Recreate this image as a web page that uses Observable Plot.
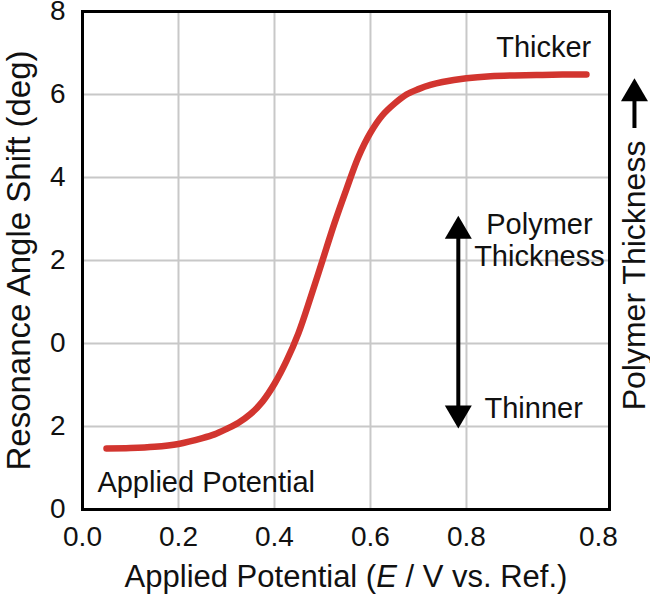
<!DOCTYPE html>
<html>
<head>
<meta charset="utf-8">
<script src="https://cdn.jsdelivr.net/npm/d3@7"></script>
<script src="https://cdn.jsdelivr.net/npm/@observablehq/plot@0.6"></script>
<style>
  html, body { margin: 0; padding: 0; background: #fff; }
  #chart svg { display: block; }
</style>
</head>
<body>
<div id="chart"></div>
<script>
// ---- data ----
const potential = [0.05, 0.1, 0.15, 0.2, 0.25, 0.275, 0.3, 0.325, 0.35, 0.375, 0.4, 0.425, 0.45, 0.475, 0.5, 0.525, 0.55, 0.575, 0.6, 0.625, 0.65, 0.675, 0.7, 0.725, 0.75, 0.8, 0.85, 0.9, 0.95, 1.0, 1.05];
const shift     = [1.47, 1.48, 1.51, 1.58, 1.72, 1.81, 1.94, 2.09, 2.30, 2.60, 3.03, 3.58, 4.25, 5.1, 6.0, 6.9, 7.72, 8.5, 9.08, 9.5, 9.78, 10.0, 10.13, 10.23, 10.30, 10.39, 10.44, 10.46, 10.47, 10.48, 10.48];

const xTickValues = [0, 0.2, 0.4, 0.6, 0.8, 1.075];
const xTickLabels = ["0.0", "0.2", "0.4", "0.6", "0.8", "0.8"];
const xGridValues = [0.2, 0.4, 0.6, 0.8];

const yTickValues = [0, 2, 4, 6, 8, 10, 12];
const yTickLabels = ["0", "2", "0", "2", "4", "6", "8"];
const yGridValues = [2, 4, 6, 8, 10];

const noteText   = ["Thicker", "Polymer", "Thickness", "Thinner", "Applied Potential"];
const noteX      = [1.06, 0.952, 0.952, 0.94, 0.031];
const noteY      = [11.12, 6.87, 6.10, 2.44, 0.64];
const noteAnchor = ["end", "middle", "middle", "middle", "start"];

const sideText = "Polymer Thickness";
const sideX = 1.15, sideY = 5.64;
const sideArrowTail = 9.18, sideArrowTip = 10.39;

const arrowX = 0.783, arrowTop = 7.08, arrowBottom = 1.95;

const xTitle = "Applied Potential (E / V vs. Ref.)";
const yTitle = "Resonance Angle Shift (deg)";

// ---- tables built from the arrays ----
const curve = potential.map((p, i) => ({p, s: shift[i]}));
const notes = noteText.map((t, i) => ({t, x: noteX[i], y: noteY[i], a: noteAnchor[i]}));

const headUp = {draw(ctx) { ctx.moveTo(0, 0); ctx.lineTo(13.5, 23); ctx.lineTo(-13.5, 23); ctx.closePath(); }};
const headDown = {draw(ctx) { ctx.moveTo(0, 0); ctx.lineTo(13.5, -23); ctx.lineTo(-13.5, -23); ctx.closePath(); }};

const font = "'Liberation Sans', Arial, Helvetica, sans-serif";

const noteMark = anchor => Plot.text(notes, {
  filter: d => d.a === anchor, x: "x", y: "y", text: "t",
  textAnchor: anchor, fontSize: 29, fill: "#111"
});

const chart = Plot.plot({
  width: 650,
  height: 594,
  marginLeft: 82,
  marginRight: 41,
  marginTop: 11,
  marginBottom: 85,
  style: {fontFamily: font, fontSize: "28px", color: "#111", background: "#fff"},
  x: {domain: [0, 1.098]},
  y: {domain: [0, 12]},
  marks: [
    Plot.gridX(xGridValues, {stroke: "#c8c8c8", strokeOpacity: 1, strokeWidth: 2}),
    Plot.gridY(yGridValues, {stroke: "#c8c8c8", strokeOpacity: 1, strokeWidth: 2}),
    Plot.axisX(xTickValues, {
      tickSize: 0, tickPadding: 17,
      tickFormat: d => xTickLabels[xTickValues.indexOf(d)],
      label: xTitle, labelAnchor: "center", labelOffset: 77, labelArrow: false
    }),
    Plot.axisY(yTickValues, {
      tickSize: 0, tickPadding: 17,
      tickFormat: d => yTickLabels[yTickValues.indexOf(d)],
      label: yTitle, labelAnchor: "center", labelOffset: 76, labelArrow: false
    }),
    Plot.line(curve, {x: "p", y: "s", stroke: "#d2352f", strokeWidth: 6.5, curve: "catmull-rom", strokeLinecap: "round", strokeLinejoin: "round"}),
    Plot.ruleX([arrowX], {y1: arrowBottom + 0.35, y2: arrowTop - 0.35, stroke: "black", strokeWidth: 4}),
    Plot.dot([arrowX], {x: d => d, y: arrowTop, symbol: headUp, fill: "black", stroke: "none", r: 5}),
    Plot.dot([arrowX], {x: d => d, y: arrowBottom, symbol: headDown, fill: "black", stroke: "none", r: 5}),
    noteMark("start"),
    noteMark("middle"),
    noteMark("end"),
    Plot.text([sideText], {x: sideX, y: sideY, text: d => d, rotate: -90, fontSize: 32, fill: "#111"}),
    Plot.ruleX([sideX], {y1: sideArrowTail, y2: sideArrowTip - 0.35, stroke: "black", strokeWidth: 4}),
    Plot.dot([sideX], {x: d => d, y: sideArrowTip, symbol: headUp, fill: "black", stroke: "none", r: 5}),
    Plot.frame({stroke: "black", strokeWidth: 3})
  ]
});

document.getElementById("chart").appendChild(chart);

const svg = d3.select(chart);
svg.selectAll('g[aria-label="y-axis label"] text').attr("font-size", 33);
const xl = svg.selectAll('g[aria-label="x-axis label"] text').attr("font-size", 31);
xl.each(function() {
  const t = d3.select(this);
  t.text(null);
  t.append("tspan").text("Applied Potential (");
  t.append("tspan").attr("font-style", "italic").text("E");
  t.append("tspan").text(" / V vs. Ref.)");
});
</script>
</body>
</html>
